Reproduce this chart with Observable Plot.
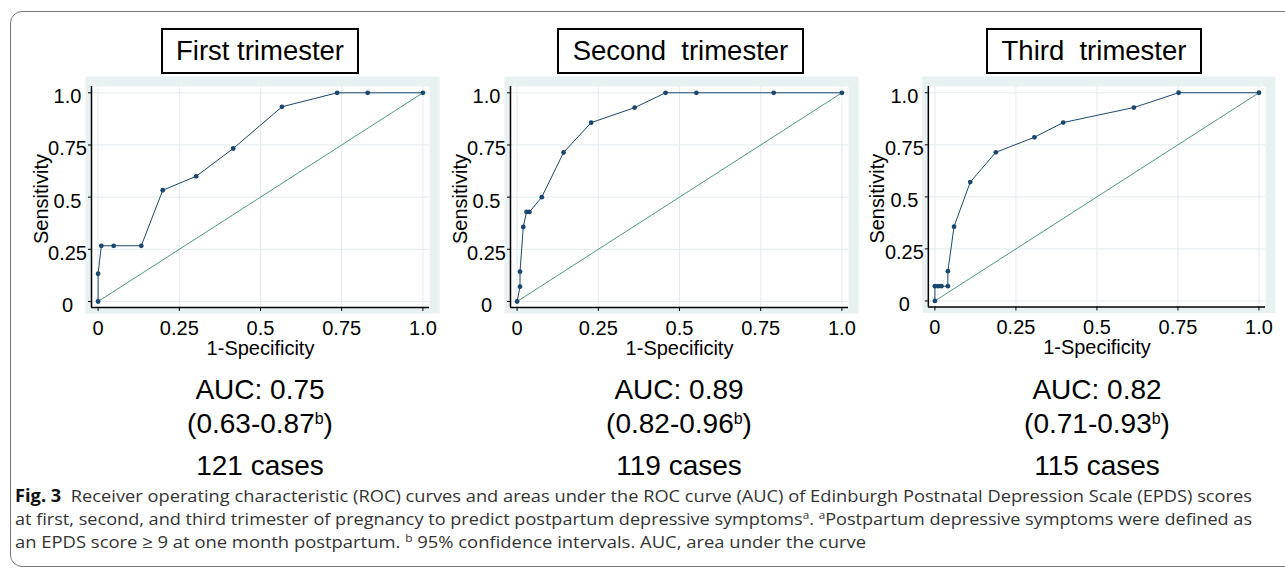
<!DOCTYPE html>
<html>
<head>
<meta charset="utf-8">
<script src="https://cdn.jsdelivr.net/npm/d3@7"></script>
<script src="https://cdn.jsdelivr.net/npm/@observablehq/plot@0.6"></script>
<style>
  html, body { margin: 0; padding: 0; background: #fff; }
  body { width: 1285px; height: 569px; position: relative; overflow: hidden; font-family: "Liberation Sans", Arial, sans-serif; }
  .border { position: absolute; left: 10px; top: 11px; width: 1300px; height: 556px; border: 1.5px solid #777; border-radius: 12px; box-sizing: border-box; }
  .panel { position: absolute; top: 70px; }
  .tbox { position: absolute; top: 28px; height: 46px; border: 2px solid #000; box-sizing: border-box; text-align: center; font-size: 27.5px; line-height: 42px; white-space: pre; color: #000; }
  .auc { position: absolute; width: 300px; text-align: center; font-size: 28px; line-height: 28px; white-space: pre; color: #000; }
  .sup { position: relative; top: -9px; font-size: 16px; }
  .cap { position: absolute; left: 15px; font-family: "Open Sans", "Noto Sans", sans-serif; font-size: 17px; line-height: 23px; color: #333; white-space: nowrap; display: inline-block; transform-origin: 0 0; }
  .cap b { color: #111; }
  .cap .s { position: relative; top: -6px; font-size: 11px; }
</style>
</head>
<body>
<div class="border"></div>
<script>
// ---- data ----
const panelTitles = ["First trimester", "Second  trimester", "Third  trimester"];
const aucLabels = ["AUC: 0.75", "AUC: 0.89", "AUC: 0.82"];
const ciLabels = ["(0.63-0.87", "(0.82-0.96", "(0.71-0.93"];
const caseLabels = ["121 cases", "119 cases", "115 cases"];
const tickValues = [0, 0.25, 0.5, 0.75, 1];
const tickLabels = ["0", "0.25", "0.5", "0.75", "1.0"];
const xLabel = "1-Specificity";
const yLabel = "Sensitivity";

const fprFirst  = [0, 0, 0.01, 0.048, 0.133, 0.199, 0.302, 0.416, 0.566, 0.736, 0.83, 1];
const tprFirst  = [0, 0.133, 0.267, 0.267, 0.267, 0.533, 0.6, 0.733, 0.933, 1, 1, 1];
const fprSecond = [0, 0.009, 0.009, 0.019, 0.029, 0.038, 0.076, 0.143, 0.228, 0.362, 0.457, 0.552, 0.79, 1];
const tprSecond = [0, 0.071, 0.143, 0.357, 0.429, 0.429, 0.5, 0.714, 0.857, 0.929, 1, 1, 1, 1];
const fprThird  = [0, 0, 0.01, 0.02, 0.04, 0.04, 0.059, 0.109, 0.188, 0.307, 0.396, 0.614, 0.752, 1];
const tprThird  = [0, 0.071, 0.071, 0.071, 0.071, 0.143, 0.357, 0.571, 0.714, 0.786, 0.857, 0.929, 1, 1];
const diagX = [0, 1];
const diagY = [0, 1];

const captionLines = [
  '<b>Fig. 3</b>&nbsp; Receiver operating characteristic (ROC) curves and areas under the ROC curve (AUC) of Edinburgh Postnatal Depression Scale (EPDS) scores',
  'at first, second, and third trimester of pregnancy to predict postpartum depressive symptoms<span class="s">a</span>. <span class="s">a</span>Postpartum depressive symptoms were defined as',
  'an EPDS score \u2265 9 at one month postpartum. <span class="s">b</span> 95% confidence intervals. AUC, area under the curve'
];

// ---- layout ----
const fprs = [fprFirst, fprSecond, fprThird];
const tprs = [tprFirst, tprSecond, tprThird];
const frameLefts = [91, 510, 928];
const frameW = 338, frameH = 221;
const mL = 71, mR = 20, mT = 16, mB = 63;
const titleBoxes = [[161, 198], [557, 247], [986, 216]];
const rocColor = "#1a476f", diagColor = "#4f9683", bgColor = "#e8f0f2", gridColor = "#e3ebee";
const xPadL = 6.6 / 325, xPadR = 6.6 / 325, yPadB = 6 / 208.7, yPadT = 6.3 / 208.7;
const fontFamily = '"Liberation Sans", Arial, sans-serif';
const fmt = d => tickLabels[tickValues.indexOf(d)];

fprs.forEach((fpr, i) => {
  const roc = fpr.map((x, j) => ({x, y: tprs[i][j]}));
  const diag = diagX.map((x, j) => ({x, y: diagY[j]}));
  const chart = Plot.plot({
    width: mL + frameW + mR,
    height: mT + frameH + mB,
    marginLeft: mL, marginRight: mR, marginTop: mT, marginBottom: mB,
    style: {fontFamily, fontSize: "20px", background: "transparent", overflow: "visible", color: "#000"},
    x: {domain: [-xPadL, 1 + xPadR]},
    y: {domain: [-yPadB, 1 + yPadT]},
    marks: [
      Plot.frame({fill: bgColor, stroke: "none", insetLeft: -6, insetRight: -10, insetTop: -10, insetBottom: -6}),
      Plot.frame({fill: "white", stroke: "none"}),
      Plot.gridX({ticks: tickValues, stroke: gridColor, strokeOpacity: 1, strokeWidth: 1}),
      Plot.gridY({ticks: tickValues, stroke: gridColor, strokeOpacity: 1, strokeWidth: 1}),
      Plot.line(diag, {x: "x", y: "y", stroke: diagColor, strokeWidth: 1}),
      Plot.line(roc, {x: "x", y: "y", stroke: rocColor, strokeWidth: 1}),
      Plot.dot(roc, {x: "x", y: "y", r: 2.4, fill: rocColor, stroke: "none"}),
      Plot.ruleX([-xPadL], {stroke: "#000", strokeWidth: 1.5}),
      Plot.ruleY([-yPadB], {stroke: "#000", strokeWidth: 1.5}),
      Plot.axisX({ticks: tickValues, tickFormat: fmt, tickSize: 4, tickPadding: 9, fontSize: 20, label: null}),
      Plot.axisY({ticks: tickValues, tickSize: 3, fill: "none", label: null}),
      Plot.axisY({ticks: tickValues, tickFormat: fmt, tickSize: 0, tickPadding: 24, textAnchor: "middle", dy: 4, fontSize: 20, label: null}),
      Plot.text([xLabel], {text: d => d, frameAnchor: "bottom", dy: 47, lineAnchor: "bottom", fontSize: 20, fill: "#000"}),
      Plot.text([yLabel], {text: d => d, frameAnchor: "left", textAnchor: "middle", dx: -44, dy: 2, rotate: -90, lineAnchor: "bottom", fontSize: 20, fill: "#000"})
    ]
  });
  const wrap = document.createElement("div");
  wrap.className = "panel";
  wrap.style.left = (frameLefts[i] - mL) + "px";
  wrap.appendChild(chart);
  document.body.appendChild(wrap);

  const tb = document.createElement("div");
  tb.className = "tbox";
  tb.style.left = titleBoxes[i][0] + "px";
  tb.style.width = titleBoxes[i][1] + "px";
  tb.textContent = panelTitles[i];
  document.body.appendChild(tb);

  const cx = frameLefts[i] + frameW / 2;
  const lines = [
    [aucLabels[i], 375.5],
    [ciLabels[i] + '<span class="sup">b</span>)', 410],
    [caseLabels[i], 452]
  ];
  lines.forEach(([html, top]) => {
    const d = document.createElement("div");
    d.className = "auc";
    d.style.left = (cx - 150) + "px";
    d.style.top = top + "px";
    d.innerHTML = html;
    document.body.appendChild(d);
  });
});

const capTops = [484, 507, 530];
const capWidths = [1237, 1237, 851];
captionLines.forEach((html, i) => {
  const d = document.createElement("div");
  d.className = "cap";
  d.style.top = capTops[i] + "px";
  d.innerHTML = html;
  document.body.appendChild(d);
  const w = d.getBoundingClientRect().width;
  d.style.transform = `scaleX(${capWidths[i] / w})`;
});
</script>
</body>
</html>
